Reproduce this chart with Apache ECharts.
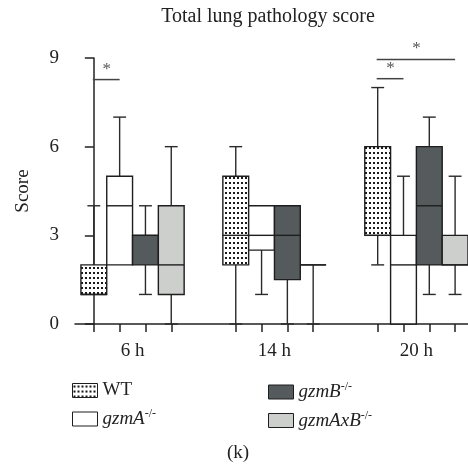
<!DOCTYPE html>
<html>
<head>
<meta charset="utf-8">
<script src="https://cdn.jsdelivr.net/npm/echarts@6/dist/echarts.min.js"></script>
<style>
  html, body { margin: 0; padding: 0; background: #fff; }
  #chart { width: 468px; height: 466px; }
</style>
</head>
<body>
<div id="chart"></div>
<script>
// data
const timepoints = ['6 h', '14 h', '20 h'];
const groups = ['WT', 'gzmA', 'gzmB', 'gzmAxB'];
// [min, q1, median, q3, max] for each timepoint
const wtBoxes = [[1, 1, 1, 2, 4], [0, 2, 3, 5, 6], [2, 3, 3, 6, 8]];
const gzmABoxes = [[2, 2, 4, 5, 7], [1, 2.5, 3, 4, 4], [0, 0, 2, 3, 5]];
const gzmBBoxes = [[1, 2, 3, 3, 4], [0, 1.5, 3, 4, 4], [1, 2, 4, 6, 7]];
const gzmAxBBoxes = [[0, 1, 2, 4, 6], [0, 2, 2, 2, 2], [1, 2, 2, 3, 5]];
const yTicks = [0, 3, 6, 9];
// significance bars: timepoint index, from group, to group, height
const sigTime = [0, 2, 2];
const sigFrom = [0, 0, 0];
const sigTo = [1, 1, 3];
const sigY = [8.27, 8.3, 8.95];

const FONT = '"Liberation Serif", "DejaVu Serif", serif';
const GROUP_STEP = 5.5; // slots between timepoint groups
const pos = (t, g) => t * GROUP_STEP + g;

// dotted fill for WT
const dotCanvas = document.createElement('canvas');
dotCanvas.width = 4;
dotCanvas.height = 5;
const dctx = dotCanvas.getContext('2d');
dctx.fillStyle = '#fff';
dctx.fillRect(0, 0, 4, 5);
dctx.fillStyle = '#1a1a1a';
dctx.fillRect(1, 2, 2, 2);
const dotted = { image: dotCanvas, repeat: 'repeat' };

const fills = [dotted, '#ffffff', '#555a5c', '#cdcfcd'];
const allBoxes = [wtBoxes, gzmABoxes, gzmBBoxes, gzmAxBBoxes];

const tickValues = [];
timepoints.forEach((t, ti) => groups.forEach((g, gi) => tickValues.push(pos(ti, gi))));
const labelValues = timepoints.map((t, ti) => pos(ti, 1.5));

function renderBox(params, api) {
  const x = api.value(0);
  const lo = api.coord([x, api.value(1)]);
  const q1 = api.coord([x, api.value(2)]);
  const md = api.coord([x, api.value(3)]);
  const q3 = api.coord([x, api.value(4)]);
  const hi = api.coord([x, api.value(5)]);
  const w = api.size([1, 0])[0];
  const cap = w / 2;
  const cx = q1[0];
  const lineStyle = { stroke: '#2a2a2a', lineWidth: 1.4 };
  const children = [];
  if (api.value(5) > api.value(4)) {
    children.push({ type: 'line', shape: { x1: cx, y1: q3[1], x2: cx, y2: hi[1] }, style: lineStyle });
    children.push({ type: 'line', shape: { x1: cx - cap / 2, y1: hi[1], x2: cx + cap / 2, y2: hi[1] }, style: lineStyle });
  }
  if (api.value(1) < api.value(2)) {
    children.push({ type: 'line', shape: { x1: cx, y1: q1[1], x2: cx, y2: lo[1] }, style: lineStyle });
    children.push({ type: 'line', shape: { x1: cx - cap / 2, y1: lo[1], x2: cx + cap / 2, y2: lo[1] }, style: lineStyle });
  }
  children.push({
    type: 'rect',
    shape: { x: cx - w / 2, y: q3[1], width: w, height: q1[1] - q3[1] },
    style: { fill: api.visual('color'), stroke: '#1e1e1e', lineWidth: 1.4 }
  });
  children.push({ type: 'line', shape: { x1: cx - w / 2, y1: md[1], x2: cx + w / 2, y2: md[1] }, style: { stroke: '#1e1e1e', lineWidth: 1.4 } });
  return { type: 'group', children: children };
}

function renderSig(params, api) {
  const a = api.coord([api.value(0), api.value(2)]);
  const b = api.coord([api.value(1), api.value(2)]);
  return {
    type: 'group',
    children: [
      { type: 'line', shape: { x1: a[0] - 1, y1: a[1], x2: b[0], y2: b[1] }, style: { stroke: '#444', lineWidth: 1.5 } },
      {
        type: 'text', x: (a[0] + b[0]) / 2, y: a[1] - 2,
        style: { text: '*', textAlign: 'center', textVerticalAlign: 'bottom', font: '17px ' + FONT, fill: '#555' }
      }
    ]
  };
}

const series = groups.map((g, gi) => ({
  name: g,
  type: 'custom',
  renderItem: renderBox,
  itemStyle: { color: fills[gi], borderColor: '#1e1e1e', borderWidth: 1 },
  encode: { x: 0, y: [1, 2, 3, 4, 5] },
  data: allBoxes[gi].map((b, ti) => [pos(ti, gi)].concat(b)),
  silent: true,
  animation: false
}));

series.push({
  name: 'sig',
  type: 'custom',
  renderItem: renderSig,
  encode: { x: [0, 1], y: 2 },
  data: sigTime.map((t, i) => [pos(t, sigFrom[i]), pos(t, sigTo[i]), sigY[i]]),
  silent: true,
  animation: false
});

const legendRich = {
  n: { fontFamily: FONT, fontSize: 19, color: '#222', lineHeight: 22 },
  i: { fontFamily: FONT, fontSize: 19, fontStyle: 'italic', color: '#222', lineHeight: 22 },
  s: { fontFamily: FONT, fontSize: 12, color: '#222', lineHeight: 12, verticalAlign: 'top' }
};
const legendFormatter = name => name === 'WT' ? '{n|WT}' : '{i|' + name + '}{s|-/-}';
const legendBase = {
  orient: 'vertical',
  icon: 'rect',
  itemWidth: 25,
  itemHeight: 14,
  itemGap: 8,
  padding: 0,
  top: 381,
  selectedMode: false,
  itemStyle: { borderColor: '#1e1e1e', borderWidth: 1 },
  formatter: legendFormatter,
  textStyle: { rich: legendRich }
};

const chart = echarts.init(document.getElementById('chart'), null, { renderer: 'canvas' });
chart.setOption({
  animation: false,
  graphic: [
    { type: 'text', x: 268, y: 7, style: { text: 'Total lung pathology score', textAlign: 'center', font: '20px ' + FONT, fill: '#222' } },
    { type: 'text', x: 238, y: 444, style: { text: '(k)', textAlign: 'center', font: '19px ' + FONT, fill: '#222' } }
  ],
  grid: { left: 75, right: 0, top: 58, bottom: 142 },
  legend: [
    Object.assign({ left: 72, data: [groups[0], groups[1]] }, legendBase),
    Object.assign({ left: 268, data: [groups[2], groups[3]] }, legendBase)
  ],
  xAxis: {
    type: 'value',
    min: -0.73,
    max: 14.5,
    splitLine: { show: false },
    axisLine: { show: true, lineStyle: { color: '#222', width: 1.5 } },
    axisTick: { show: true, customValues: tickValues, length: 8, lineStyle: { color: '#222', width: 1.5 } },
    axisLabel: {
      customValues: labelValues,
      margin: 18,
      fontFamily: FONT, fontSize: 19, color: '#222',
      formatter: v => timepoints[labelValues.findIndex(l => Math.abs(l - v) < 1e-6)] || ''
    }
  },
  yAxis: {
    type: 'value',
    min: yTicks[0],
    max: yTicks[yTicks.length - 1],
    interval: 3,
    name: 'Score',
    nameLocation: 'middle',
    nameGap: 42,
    nameTextStyle: { fontFamily: FONT, fontSize: 19, color: '#222' },
    splitLine: { show: false },
    axisLine: { show: true, lineStyle: { color: '#222', width: 1.5 } },
    axisTick: { show: true, length: 9, lineStyle: { color: '#222', width: 1.5 } },
    axisLabel: { margin: 16, fontFamily: FONT, fontSize: 19, color: '#222' }
  },
  series: series
});
</script>
</body>
</html>
